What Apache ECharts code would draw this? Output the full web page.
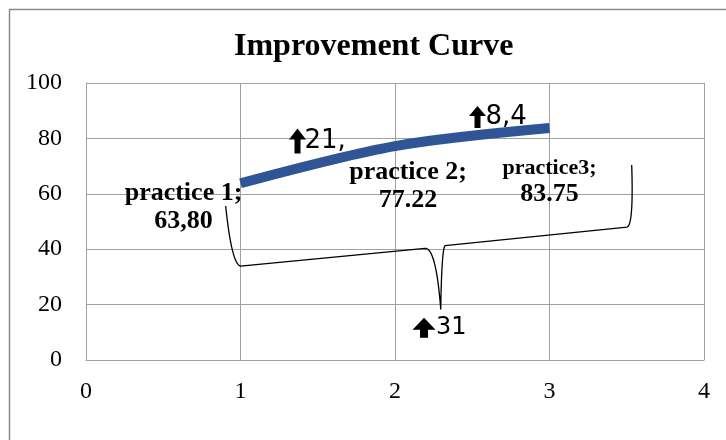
<!DOCTYPE html>
<html>
<head>
<meta charset="utf-8">
<script src="https://cdn.jsdelivr.net/npm/echarts@6/dist/echarts.min.js"></script>
<style>
  html, body { margin: 0; padding: 0; background: #ffffff; }
  #chart { width: 726px; height: 440px; }
</style>
</head>
<body>
<div id="chart"></div>
<script>
// Practice sessions and their scores
const practiceX = [1, 2, 3];
const scores = [63.80, 77.22, 83.75];
const practiceNames = ['practice 1;', 'practice 2;', 'practice3;'];
const decimalMarks = [',', '.', '.'];
// Percentage gains between sessions
const gainLabels = ['21,', '8,4', '31'];
// Axis ranges
const xTicks = [0, 1, 2, 3, 4];
const yTicks = [0, 20, 40, 60, 80, 100];

const SERIF = '"Liberation Serif", "Times New Roman", serif';
const SANS = '"DejaVu Sans", sans-serif';

// Label block offsets relative to each point (pixels)
const labelOffsets = [[-57, 24], [13, 40], [0, 54.5]];

// Gain annotation anchors in axis units, with arrow geometry in pixels
const gainAnchors = [
  { at: [1.369, 78.9], up: 13, down: 12, head: 17, headH: 11, shaft: 6, textDx: 7, size: 26 },
  { at: [2.534, 87.7], up: 11, down: 11, head: 17, headH: 10, shaft: 6, textDx: 8, size: 26 },
  { at: [2.188, 11.6], up: 10, down: 10, head: 23, headH: 12, shaft: 8, textDx: 12, size: 24 }
];

// Curly brace grouping the three sessions, in axis units
const braceStart = [0.904, 55.6];
const braceCorner1 = [1.0, 33.9];
const braceDipL = [2.194, 40.3];
const braceTip = [2.296, 18.4];
const braceDipR = [2.324, 41.3];
const braceCorner2 = [3.502, 48.0];
const braceEnd = [3.532, 70.4];

function formatScore(v, i) {
  return v.toFixed(2).replace('.', decimalMarks[i]);
}

const chart = echarts.init(document.getElementById('chart'), null, { renderer: 'canvas' });

const seriesData = practiceX.map((x, i) => ({
  value: [x, scores[i]],
  label: {
    offset: labelOffsets[i],
    formatter: () => i === 2
      ? '{m|' + practiceNames[i] + '}\n{v3|' + formatScore(scores[i], i) + '}'
      : '{n|' + practiceNames[i] + '}\n{v|' + formatScore(scores[i], i) + '}'
  }
}));

const option = {
  animation: false,
  backgroundColor: '#ffffff',
  title: {
    text: 'Improvement Curve',
    left: 234,
    top: 31,
    padding: 0,
    textStyle: { fontFamily: SERIF, fontWeight: 'bold', fontSize: 32, color: '#000', lineHeight: 32 }
  },
  grid: { left: 86, right: 22, top: 83, bottom: 80, containLabel: false },
  xAxis: {
    type: 'value',
    min: xTicks[0],
    max: xTicks[xTicks.length - 1],
    interval: 1,
    axisLine: { show: true, lineStyle: { color: '#A0A0A0', width: 1 } },
    axisTick: { show: false },
    splitLine: { show: true, lineStyle: { color: '#A0A0A0', width: 1 } },
    axisLabel: { fontFamily: SERIF, fontSize: 24, color: '#000', margin: 20 }
  },
  yAxis: {
    type: 'value',
    min: yTicks[0],
    max: yTicks[yTicks.length - 1],
    interval: 20,
    axisLine: { show: true, lineStyle: { color: '#A0A0A0', width: 1 } },
    axisTick: { show: false },
    splitLine: { show: true, lineStyle: { color: '#A0A0A0', width: 1 } },
    axisLabel: { fontFamily: SERIF, fontSize: 24, color: '#000', margin: 24 }
  },
  series: [{
    type: 'line',
    data: seriesData,
    smooth: 0.3,
    symbol: 'circle',
    symbolSize: 1,
    showSymbol: true,
    itemStyle: { color: 'rgba(0,0,0,0)' },
    lineStyle: { color: '#2F5597', width: 10, cap: 'butt' },
    label: {
      show: true,
      position: 'inside',
      align: 'center',
      verticalAlign: 'middle',
      color: '#000',
      rich: {
        n: { fontFamily: SERIF, fontWeight: 'bold', fontSize: 26, lineHeight: 28.5, color: '#000', align: 'center' },
        v: { fontFamily: SERIF, fontWeight: 'bold', fontSize: 26, lineHeight: 28.5, color: '#000', align: 'center' },
        m: { fontFamily: SERIF, fontWeight: 'bold', fontSize: 22, lineHeight: 24, color: '#000', align: 'center' },
        v3: { fontFamily: SERIF, fontWeight: 'bold', fontSize: 26, lineHeight: 29, color: '#000', align: 'center' }
      }
    },
    emphasis: { disabled: true }
  }]
};

chart.setOption(option);

// Overlay: chart border, gain arrows and the grouping brace
function px(p) { return chart.convertToPixel({ gridIndex: 0 }, p); }

// Sample a quadratic curve from a to b with control point c
function quad(a, c, b, n) {
  const pts = [];
  for (let k = 1; k <= n; k++) {
    const t = k / n, u = 1 - t;
    pts.push([u * u * a[0] + 2 * u * t * c[0] + t * t * b[0],
              u * u * a[1] + 2 * u * t * c[1] + t * t * b[1]]);
  }
  return pts;
}

const graphics = [{
  type: 'rect',
  shape: { x: 9.5, y: 9.5, width: 800, height: 500 },
  style: { fill: 'none', stroke: '#8A8A8A', lineWidth: 1.5 },
  silent: true,
  z: -1
}];

gainAnchors.forEach((g, i) => {
  const [cx, cy] = px(g.at);
  const top = cy - g.up, bottom = cy + g.down;
  const hs = g.shaft / 2, hh = g.head / 2;
  graphics.push({
    type: 'polygon',
    shape: { points: [
      [cx - hs, bottom], [cx - hs, top + g.headH], [cx - hh, top + g.headH],
      [cx, top], [cx + hh, top + g.headH], [cx + hs, top + g.headH], [cx + hs, bottom]
    ] },
    style: { fill: '#000' },
    silent: true,
    z: 10
  });
  graphics.push({
    type: 'text',
    x: cx + g.textDx,
    y: cy,
    style: {
      text: gainLabels[i],
      font: g.size + 'px ' + SANS,
      fill: '#000',
      textAlign: 'left',
      textVerticalAlign: 'middle'
    },
    silent: true,
    z: 10
  });
});

const s = px(braceStart), c1 = px(braceCorner1), dl = px(braceDipL), tp = px(braceTip);
const dr = px(braceDipR), c2 = px(braceCorner2), e = px(braceEnd);
let bracePts = [s];
bracePts = bracePts.concat(quad(s, [s[0] + 6, c1[1] - 2], c1, 16));
bracePts.push(dl);
bracePts = bracePts.concat(quad(dl, [dl[0] + 11, dl[1] - 1], tp, 16));
bracePts = bracePts.concat(quad(tp, [tp[0] + 1, dr[1] + 3], dr, 16));
bracePts.push(c2);
bracePts = bracePts.concat(quad(c2, [e[0] + 2, c2[1] - 2], e, 16));

graphics.push({
  type: 'polyline',
  shape: { points: bracePts },
  style: { fill: 'none', stroke: '#000', lineWidth: 1.3, lineJoin: 'round' },
  silent: true,
  z: 9
});

chart.setOption({ graphic: graphics });
</script>
</body>
</html>
